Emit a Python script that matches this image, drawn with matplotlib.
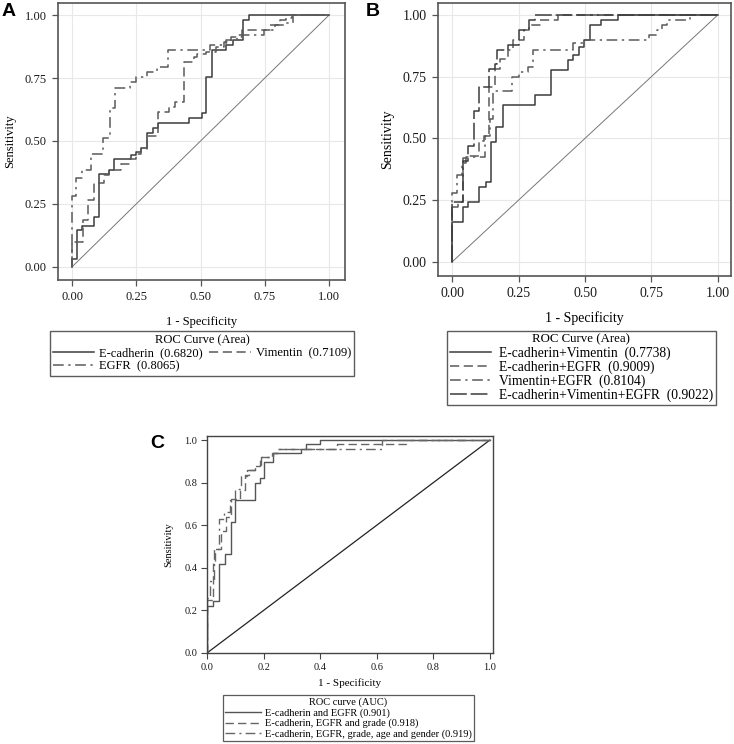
import matplotlib
matplotlib.use("Agg")
import matplotlib.pyplot as plt

plt.rcParams['font.family'] = ['Liberation Serif', 'DejaVu Serif']

W, H = 734, 744

# ---------------- Data ----------------
# Panel A
a_ecad_x = [0, 0, 0.02, 0.04, 0.085, 0.105, 0.145, 0.165, 0.228, 0.248, 0.267, 0.293, 0.315, 0.335, 0.456, 0.504, 0.521, 0.544, 0.601, 0.627, 0.666, 0.689, 1.0]
a_ecad_y = [0, 0.03, 0.147, 0.163, 0.20, 0.37, 0.385, 0.427, 0.444, 0.455, 0.471, 0.53, 0.55, 0.573, 0.59, 0.61, 0.755, 0.86, 0.88, 0.90, 0.98, 1.0, 1.0]
a_vim_x = [0, 0, 0.043, 0.062, 0.086, 0.125, 0.145, 0.19, 0.224, 0.25, 0.27, 0.29, 0.336, 0.379, 0.40, 0.437, 0.475, 0.485, 0.521, 0.56, 0.59, 0.62, 0.66, 0.77, 0.81, 0.834, 0.855, 1.0]
a_vim_y = [0, 0.10, 0.187, 0.266, 0.332, 0.365, 0.385, 0.41, 0.43, 0.45, 0.47, 0.52, 0.616, 0.636, 0.656, 0.815, 0.834, 0.845, 0.854, 0.874, 0.894, 0.914, 0.94, 0.96, 0.98, 0.987, 1.0, 1.0]
a_egfr_x = [0, 0, 0.017, 0.04, 0.075, 0.12, 0.146, 0.167, 0.226, 0.25, 0.29, 0.33, 0.375, 0.537, 0.60, 0.64, 0.745, 0.79, 0.83, 0.86, 1.0]
a_egfr_y = [0, 0.28, 0.352, 0.385, 0.45, 0.51, 0.63, 0.71, 0.735, 0.755, 0.775, 0.795, 0.86, 0.88, 0.90, 0.92, 0.94, 0.96, 0.97, 1.0, 1.0]
a_labels = ["E-cadherin  (0.6820)", "Vimentin  (0.7109)", "EGFR  (0.8065)"]

# Panel B
b_ev_x = [0, 0, 0.04, 0.06, 0.10, 0.125, 0.147, 0.165, 0.19, 0.312, 0.372, 0.435, 0.454, 0.479, 0.497, 0.518, 0.562, 0.624, 1.0]
b_ev_y = [0, 0.16, 0.22, 0.243, 0.304, 0.324, 0.486, 0.547, 0.635, 0.676, 0.777, 0.818, 0.838, 0.872, 0.899, 0.96, 0.98, 1.0, 1.0]
b_ee_x = [0, 0, 0.02, 0.04, 0.06, 0.10, 0.12, 0.14, 0.16, 0.18, 0.21, 0.23, 0.27, 0.29, 0.33, 0.40, 1.0]
b_ee_y = [0, 0.22, 0.24, 0.42, 0.43, 0.49, 0.51, 0.71, 0.78, 0.82, 0.86, 0.90, 0.94, 0.96, 0.98, 1.0, 1.0]
b_ve_x = [0, 0, 0.016, 0.035, 0.05, 0.123, 0.142, 0.155, 0.224, 0.25, 0.286, 0.305, 0.456, 0.50, 0.742, 0.77, 0.79, 0.807, 0.895, 1.0]
b_ve_y = [0, 0.277, 0.35, 0.40, 0.425, 0.51, 0.58, 0.69, 0.75, 0.77, 0.79, 0.858, 0.885, 0.90, 0.92, 0.94, 0.96, 0.98, 1.0, 1.0]
b_all_x = [0, 0, 0.04, 0.06, 0.08, 0.10, 0.14, 0.16, 0.17, 0.21, 0.25, 0.29, 0.31, 1.0]
b_all_y = [0, 0.24, 0.41, 0.47, 0.61, 0.71, 0.78, 0.80, 0.86, 0.88, 0.94, 0.98, 1.0, 1.0]
b_labels = ["E-cadherin+Vimentin  (0.7738)", "E-cadherin+EGFR  (0.9009)",
            "Vimentin+EGFR  (0.8104)", "E-cadherin+Vimentin+EGFR  (0.9022)"]

# Panel C
c_s_x = [0, 0, 0.021, 0.042, 0.063, 0.084, 0.10, 0.169, 0.186, 0.20, 0.233, 0.334, 0.351, 0.399, 1.0]
c_s_y = [0, 0.223, 0.246, 0.42, 0.466, 0.615, 0.717, 0.796, 0.82, 0.898, 0.937, 0.96, 0.98, 1.0, 1.0]
c_d_x = [0, 0, 0.021, 0.03, 0.05, 0.066, 0.086, 0.116, 0.133, 0.15, 0.169, 0.186, 0.233, 0.25, 0.458, 0.705, 1.0]
c_d_y = [0, 0.25, 0.43, 0.49, 0.573, 0.64, 0.725, 0.765, 0.835, 0.86, 0.88, 0.92, 0.94, 0.96, 0.98, 1.0, 1.0]
c_dd_x = [0, 0, 0.01, 0.024, 0.042, 0.06, 0.08, 0.10, 0.12, 0.14, 0.17, 0.19, 0.23, 0.25, 0.62, 1.0]
c_dd_y = [0, 0.26, 0.34, 0.49, 0.63, 0.66, 0.72, 0.77, 0.83, 0.86, 0.88, 0.92, 0.94, 0.96, 1.0, 1.0]
c_labels = ["E-cadherin and EGFR (0.901)", "E-cadherin, EGFR and grade (0.918)",
            "E-cadherin, EGFR, grade, age and gender (0.919)"]

ab_ticks = [0.0, 0.25, 0.5, 0.75, 1.0]
ab_ticklabels = ["0.00", "0.25", "0.50", "0.75", "1.00"]
c_ticks = [0.0, 0.2, 0.4, 0.6, 0.8, 1.0]
c_ticklabels = ["0.0", "0.2", "0.4", "0.6", "0.8", "1.0"]

# ---------------- Figure ----------------
fig = plt.figure(figsize=(W / 100, H / 100), dpi=100)


def px_axes(l, r, t, b):
    return fig.add_axes([l / W, (H - b) / H, (r - l) / W, (b - t) / H])


def fx(x):
    return x / W


def fy(y):
    return (H - y) / H


SOLID = '-'
DASHED = (0, (6, 3))
DASHDOT = (0, (7, 3, 1.5, 3))
LONGDASH = (0, (11, 2.5))

dark = '#3c3c3c'
mid = '#5a5a5a'


def style_ab(ax, xl, yl, fs, xpad, ypad):
    ax.set_xlim(*xl)
    ax.set_ylim(*yl)
    ax.set_xticks(ab_ticks)
    ax.set_xticklabels(ab_ticklabels)
    ax.set_yticks(ab_ticks)
    ax.set_yticklabels(ab_ticklabels)
    ax.grid(True, color='#e8e8e8', lw=0.8)
    ax.set_axisbelow(True)
    for s in ax.spines.values():
        s.set_color('#555555')
        s.set_linewidth(1.2)
    ax.tick_params(direction='out', length=4, width=0.9, color='#555555',
                   labelsize=fs, labelcolor='#1a1a1a', pad=4)
    ax.plot([0, 1], [0, 1], color='#777777', lw=0.7, zorder=2)
    ax.set_xlabel("1 - Specificity", fontsize=fs, labelpad=xpad)
    ax.set_ylabel("Sensitivity", fontsize=fs, labelpad=ypad)


# Panel A
axA = px_axes(58, 345, 3, 280)
style_ab(axA, (-0.0545, 1.062), (-0.052, 1.048), 9, 9, 6)
hA1, = axA.step(a_ecad_x, a_ecad_y, where='post', color=dark, lw=1.1, ls=SOLID)
hA2, = axA.step(a_vim_x, a_vim_y, where='post', color=mid, lw=1.1, ls=DASHED)
hA3, = axA.step(a_egfr_x, a_egfr_y, where='post', color=mid, lw=1.1, ls=DASHDOT)
legA = fig.legend([hA1, hA3, hA2], [a_labels[0], a_labels[2], a_labels[1]],
                  ncol=2, title="ROC Curve (Area)", loc='upper left',
                  bbox_to_anchor=(fx(50), fy(331)), frameon=True, fancybox=False,
                  edgecolor='#333333', fontsize=9, title_fontsize=9,
                  handlelength=3.3, handletextpad=0.4, columnspacing=0.5,
                  labelspacing=0.1, borderpad=0.25, borderaxespad=0)
legA.get_frame().set_linewidth(1.0)

# Panel B
axB = px_axes(438, 731, 3, 276)
style_ab(axB, (-0.054, 1.05), (-0.058, 1.0486), 10, 8, 6)
hB1, = axB.step(b_ev_x, b_ev_y, where='post', color=dark, lw=1.1, ls=SOLID)
hB2, = axB.step(b_ee_x, b_ee_y, where='post', color=mid, lw=1.1, ls=DASHED)
hB3, = axB.step(b_ve_x, b_ve_y, where='post', color=mid, lw=1.1, ls=DASHDOT)
hB4, = axB.step(b_all_x, b_all_y, where='post', color=dark, lw=1.1, ls=LONGDASH)
legB = fig.legend([hB1, hB2, hB3, hB4], b_labels, ncol=1, title="ROC Curve (Area)",
                  loc='upper left', bbox_to_anchor=(fx(447), fy(331)), frameon=True,
                  fancybox=False, edgecolor='#333333', fontsize=9.8, title_fontsize=9.3,
                  handlelength=3.0, handletextpad=0.6, labelspacing=0.05,
                  borderpad=0.2, borderaxespad=0)
legB.get_frame().set_linewidth(1.0)

# Panel C
axC = px_axes(207, 493, 436, 653)
axC.set_xlim(0, 1.011)
axC.set_ylim(0, 1.019)
axC.set_xticks(c_ticks)
axC.set_xticklabels(c_ticklabels)
axC.set_yticks(c_ticks)
axC.set_yticklabels(c_ticklabels)
for s in axC.spines.values():
    s.set_color('#444444')
    s.set_linewidth(1.0)
axC.tick_params(direction='out', length=4, width=0.8, color='#444444',
                labelsize=7.5, labelcolor='#1a1a1a', pad=3)
axC.plot([0, 1], [0, 1], color='#222222', lw=0.9, zorder=2)
hC1, = axC.step(c_s_x, c_s_y, where='post', color='#555555', lw=1.0, ls=SOLID)
hC2, = axC.step(c_d_x, c_d_y, where='post', color='#666666', lw=1.0, ls=DASHED)
hC3, = axC.step(c_dd_x, c_dd_y, where='post', color='#666666', lw=1.0, ls=DASHDOT)
axC.set_xlabel("1 - Specificity", fontsize=8, labelpad=5)
axC.set_ylabel("Sensitivity", fontsize=7.5, labelpad=8)
legC = fig.legend([hC1, hC2, hC3], c_labels, ncol=1, title="ROC curve (AUC)",
                  loc='upper left', bbox_to_anchor=(fx(223), fy(695)), frameon=True,
                  fancybox=False, edgecolor='#333333', fontsize=7.5, title_fontsize=7.5,
                  handlelength=3.4, handletextpad=0.4, labelspacing=0.12,
                  borderpad=0.2, borderaxespad=0)
legC.get_frame().set_linewidth(0.9)

# Panel letters
for lab, (x, y) in {"A": (9, 11), "B": (373, 11), "C": (157, 443)}.items():
    fig.text(fx(x), fy(y), lab, fontsize=14, fontweight='bold',
             family='Liberation Sans', ha='center', va='center')

fig.savefig("out.png", dpi=100)
